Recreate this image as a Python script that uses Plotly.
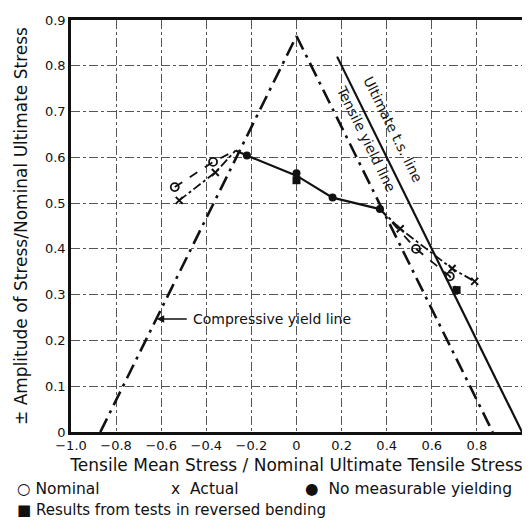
import plotly.graph_objects as go

# ---- data ----
x_ticks = [-1.0, -0.8, -0.6, -0.4, -0.2, 0.0, 0.2, 0.4, 0.6, 0.8, 1.0]
x_tick_labels = ["−1.0", "−0.8", "−0.6", "−0.4", "−0.2", "0", "0.2", "0.4", "0.6", "0.8", "1.0"]
y_ticks = [0, 0.1, 0.2, 0.3, 0.4, 0.5, 0.6, 0.7, 0.8, 0.9]
y_tick_labels = ["0", "0.1", "0.2", "0.3", "0.4", "0.5", "0.6", "0.7", "0.8", "0.9"]

compressive_x = [-0.87, 0.0]
compressive_y = [0.0, 0.865]
tensile_x = [0.0, 0.87]
tensile_y = [0.865, 0.0]
ultimate_x = [0.18, 1.0]
ultimate_y = [0.82, 0.0]

# nominal (open circles) with dashed connecting lines
nominal_x = [-0.54, -0.37, 0.53, 0.68]
nominal_y = [0.535, 0.59, 0.40, 0.34]
nominal_left_line_x = [-0.54, -0.37, -0.27]
nominal_left_line_y = [0.535, 0.59, 0.615]
nominal_right_line_x = [0.37, 0.53, 0.68, 0.71]
nominal_right_line_y = [0.487, 0.40, 0.34, 0.31]

# actual (x marks) with dash-dot lines
actual_x = [-0.52, -0.36, 0.46, 0.69, 0.79]
actual_y = [0.506, 0.567, 0.444, 0.357, 0.329]
actual_left_line_x = [-0.52, -0.36, -0.27]
actual_left_line_y = [0.506, 0.567, 0.615]
actual_right_line_x = [0.37, 0.46, 0.69, 0.79]
actual_right_line_y = [0.487, 0.444, 0.357, 0.329]

# no measurable yielding (filled circles)
noyield_x = [-0.22, 0.0, 0.16, 0.37]
noyield_y = [0.604, 0.565, 0.512, 0.487]
noyield_line_x = [-0.27, -0.22, 0.0, 0.16, 0.37]
noyield_line_y = [0.615, 0.604, 0.56, 0.512, 0.487]

# reversed bending (filled squares)
reversed_x = [0.0, 0.71]
reversed_y = [0.55, 0.31]

FONT = "DejaVu Sans"
BLACK = "#111111"

fig = go.Figure()

def line(x, y, dash, width=2.2):
    fig.add_trace(go.Scatter(x=x, y=y, mode="lines", showlegend=False, hoverinfo="skip",
                             line=dict(color=BLACK, width=width, dash=dash)))

line(compressive_x, compressive_y, "longdashdot", 2.6)
line(tensile_x, tensile_y, "longdashdot", 2.6)
line(ultimate_x, ultimate_y, "solid", 2.2)
line(nominal_left_line_x, nominal_left_line_y, "dash", 1.8)
line(nominal_right_line_x, nominal_right_line_y, "dash", 1.8)
line(actual_left_line_x, actual_left_line_y, "dashdot", 1.8)
line(actual_right_line_x, actual_right_line_y, "dashdot", 1.8)
line(noyield_line_x, noyield_line_y, "solid", 2.2)

fig.add_trace(go.Scatter(x=nominal_x, y=nominal_y, mode="markers", name="Nominal", showlegend=False,
                         marker=dict(symbol="circle-open", size=8, color=BLACK, line=dict(width=1.8))))
fig.add_trace(go.Scatter(x=actual_x, y=actual_y, mode="markers", name="Actual", showlegend=False,
                         marker=dict(symbol="x-thin-open", size=7, color=BLACK, line=dict(width=2))))
fig.add_trace(go.Scatter(x=noyield_x, y=noyield_y, mode="markers", name="No measurable yielding", showlegend=False,
                         marker=dict(symbol="circle", size=8, color=BLACK)))
fig.add_trace(go.Scatter(x=reversed_x, y=reversed_y, mode="markers", name="Results from tests in reversed bending",
                         showlegend=False, marker=dict(symbol="square", size=8, color=BLACK)))

annotations = [
    dict(x=-0.62, y=0.247, ax=-0.48, ay=0.247, axref="x", ayref="y", xref="x", yref="y",
         text="", showarrow=True, arrowhead=2, arrowsize=1, arrowwidth=1.5, arrowcolor=BLACK),
    dict(x=-0.47, y=0.247, xref="x", yref="y", text="Compressive yield line", showarrow=False,
         xanchor="left", yanchor="middle", font=dict(family=FONT, size=14, color=BLACK)),
    dict(x=0.43, y=0.66, xref="x", yref="y", text="Ultimate t.s. line", showarrow=False,
         textangle=63.8, font=dict(family=FONT, size=14, color=BLACK)),
    dict(x=0.31, y=0.64, xref="x", yref="y", text="Tensile yield line", showarrow=False,
         textangle=63.8, font=dict(family=FONT, size=14, color=BLACK)),
    dict(x=-0.124, y=-0.139, xref="paper", yref="paper", text="○ Nominal", showarrow=False,
         xanchor="left", yanchor="middle", font=dict(family=FONT, size=15.5, color=BLACK)),
    dict(x=0.218, y=-0.139, xref="paper", yref="paper", text="x  Actual", showarrow=False,
         xanchor="left", yanchor="middle", font=dict(family=FONT, size=15.5, color=BLACK)),
    dict(x=0.515, y=-0.139, xref="paper", yref="paper", text="●  No measurable yielding", showarrow=False,
         xanchor="left", yanchor="middle", font=dict(family=FONT, size=15.5, color=BLACK)),
    dict(x=-0.124, y=-0.19, xref="paper", yref="paper", text="■ Results from tests in reversed bending",
         showarrow=False, xanchor="left", yanchor="middle", font=dict(family=FONT, size=15, color=BLACK)),
]

# the page body adds an 8px margin, so the figure is sized to fit the 530x531 window
fig.update_layout(
    width=522, height=523,
    margin=dict(l=63, r=5, t=8, b=99),
    paper_bgcolor="white", plot_bgcolor="white",
    font=dict(family=FONT, size=13, color=BLACK),
    annotations=annotations,
    showlegend=False,
)
fig.update_xaxes(range=[-1.0, 1.0], tickvals=x_ticks, ticktext=x_tick_labels,
                 showgrid=True, gridcolor="#555555", gridwidth=1, griddash="dashdot",
                 showline=True, linecolor=BLACK, linewidth=2.5, mirror=True, zeroline=False,
                 ticks="", tickfont=dict(size=13),
                 title=dict(text="Tensile Mean Stress / Nominal Ultimate Tensile Stress",
                            font=dict(size=17), standoff=7))
fig.update_yaxes(range=[0, 0.9], tickvals=y_ticks, ticktext=y_tick_labels,
                 showgrid=True, gridcolor="#555555", gridwidth=1, griddash="dashdot",
                 showline=True, linecolor=BLACK, linewidth=2.5, mirror=True, zeroline=False,
                 ticks="", tickfont=dict(size=13),
                 title=dict(text="± Amplitude of Stress/Nominal Ultimate Stress",
                            font=dict(size=17), standoff=14))

fig.write_html("out.html")
